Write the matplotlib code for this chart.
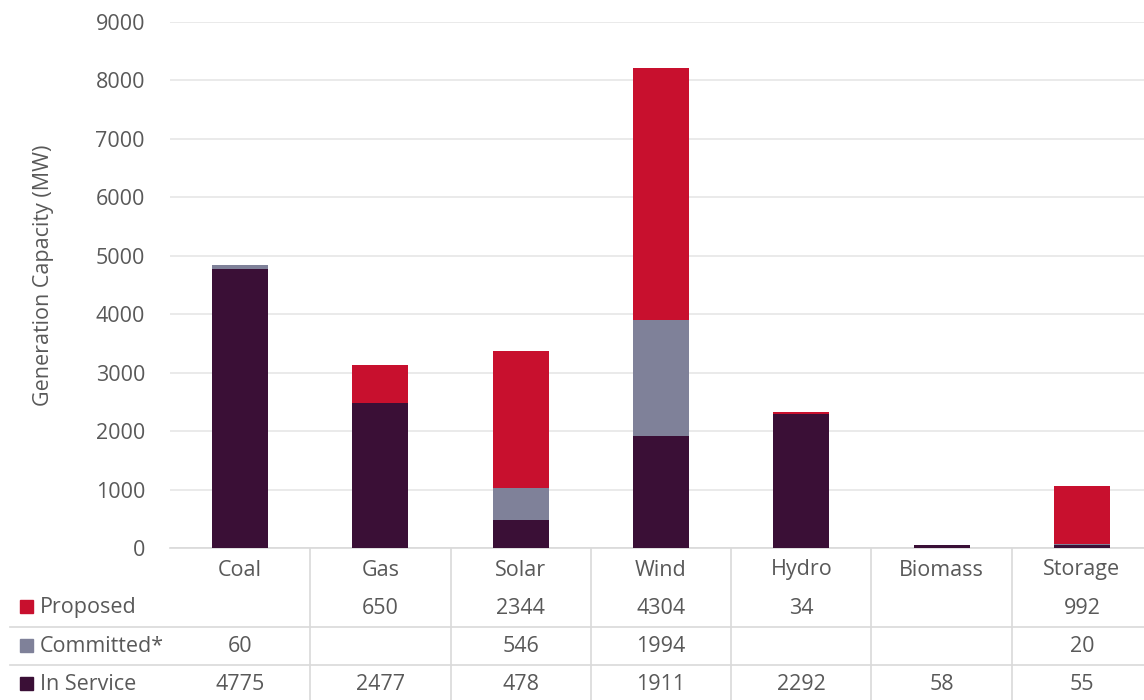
import numpy as np
import matplotlib.pyplot as plt
from matplotlib.transforms import blended_transform_factory
from matplotlib.lines import Line2D
from matplotlib.patches import Rectangle

plt.rcParams['font.family'] = ['Open Sans', 'DejaVu Sans']

"""Data"""
categories = ['Coal', 'Gas', 'Solar', 'Wind', 'Hydro', 'Biomass', 'Storage']
in_service = [4775, 2477, 478, 1911, 2292, 58, 55]
committed = [60, 0, 546, 1994, 0, 0, 20]
proposed = [0, 650, 2344, 4304, 34, 0, 992]
series_names = ['Proposed', 'Committed*', 'In Service']

c_prop = '#C8102E'
c_comm = '#7F8199'
c_serv = '#3A0F36'
txt = '#595959'
fs = 15.5

fig = plt.figure(figsize=(11.44, 7.0), dpi=100)
W, H = 1144, 700
ax = fig.add_axes([170 / W, 1 - 548 / H, (1152 - 170) / W, (548 - 22) / H])

x = np.arange(len(categories))
ins = np.array(in_service)
com = np.array(committed)
pro = np.array(proposed)
ax.bar(x, ins, width=0.4, color=c_serv, zorder=3)
ax.bar(x, com, width=0.4, bottom=ins, color=c_comm, zorder=3)
ax.bar(x, pro, width=0.4, bottom=ins + com, color=c_prop, zorder=3)

ax.set_xlim(-0.5, len(categories) - 0.5)
ax.set_ylim(0, 9000)
ax.set_yticks(np.arange(0, 9001, 1000))
ax.yaxis.grid(True, color='#E6E6E6', linewidth=1.2, zorder=0)
ax.tick_params(axis='y', length=0, labelsize=fs, labelcolor=txt, pad=18)
ax.set_xticks([])
for s in ['top', 'right', 'left']:
    ax.spines[s].set_visible(False)
ax.spines['bottom'].set_color('#D9D9D9')
ax.spines['bottom'].set_linewidth(1.2)


def fy(py):
    return 1 - py / H


fig.text(44 / W, fy(275), 'Generation Capacity (MW)', rotation=90, ha='center',
         va='center', fontsize=15.5, color=txt)

# data table under the axis
tr = blended_transform_factory(ax.transData, fig.transFigure)

for i, c in enumerate(categories):
    ax.text(i, fy(570), c, transform=tr, ha='center', va='center',
            fontsize=fs, color=txt, clip_on=False)

rows = [(proposed, 608, c_prop), (committed, 647, c_comm), (in_service, 685, c_serv)]
for (vals, py, col), name in zip(rows, series_names):
    for i, v in enumerate(vals):
        if v:
            ax.text(i, fy(py), str(v), transform=tr, ha='center', va='center',
                    fontsize=fs, color=txt, clip_on=False)
    fig.patches.append(Rectangle((20 / W, fy(py - 1) - 6 / H), 13 / W, 13 / H,
                                 transform=fig.transFigure, color=col, figure=fig))
    fig.text(40 / W, fy(py), name, ha='left', va='center', fontsize=fs, color=txt)

for py in [627, 665]:
    fig.lines.append(Line2D([10 / W, 1], [fy(py), fy(py)], transform=fig.transFigure,
                            color='#D9D9D9', linewidth=1.2))
for i in range(len(categories)):
    xd = i + 0.5
    ax.add_line(Line2D([xd, xd], [fy(549), 0], transform=tr, color='#D9D9D9',
                       linewidth=1.2, clip_on=False))

fig.savefig('out.png', dpi=100)
